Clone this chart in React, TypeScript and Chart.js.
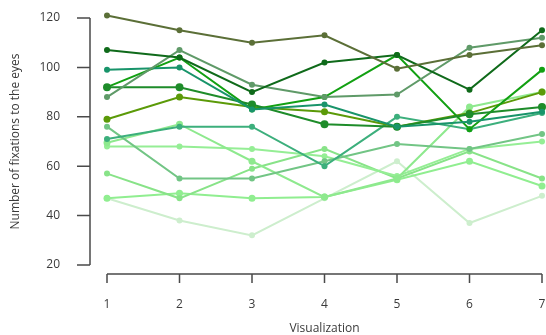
import React, { useEffect, useRef } from 'react';
import { Chart, registerables } from 'chart.js';

Chart.register(...registerables);

const visualizations = ['1', '2', '3', '4', '5', '6', '7'];
const yTicks = [20, 40, 60, 80, 100, 120];

const olive = [121, 115, 110, 113, 99.5, 105, 109];
const darkGreen = [107, 104, 90, 102, 105, 91, 115];
const grayGreen = [88, 107, 93, 88, 89, 108, 112];
const tealGreen = [99, 100, 83, 85, 76, 78, 82];
const forestGreen = [92, 92, 85, 77, 76, 81, 84];
const brightGreen = [92, 104, 83, 88, 105, 75, 99];
const oliveGreen = [79, 88, 84, 82, 76, 81.5, 90];
const teal = [71, 76, 76, 60, 80, 75, 81.5];
const medium = [76, 55, 55, 62, 69, 67, 73];
const lightA = [69.5, 77, 62, 47.5, 55, 84, 90];
const lightB = [68, 68, 67, 64, 56, 67, 70];
const lightC = [57, 47, 59, 67, 55, 66, 55];
const lightD = [47, 49, 47, 47.5, 54.5, 62, 52];
const pale = [47, 38, 32, 47, 62, 37, 48];

const series = [
  { name: 'P1', data: olive, color: '#5b6f37', r: 3 },
  { name: 'P2', data: darkGreen, color: '#0f6a1a', r: 3 },
  { name: 'P3', data: grayGreen, color: '#5f9a68', r: 3 },
  { name: 'P4', data: tealGreen, color: '#18946a', r: 3 },
  { name: 'P5', data: forestGreen, color: '#1e8c2a', r: 4 },
  { name: 'P6', data: brightGreen, color: '#12a012', r: 3 },
  { name: 'P7', data: oliveGreen, color: '#5b9a08', r: 3.5 },
  { name: 'P8', data: teal, color: '#3caf7c', r: 3 },
  { name: 'P9', data: medium, color: '#72c585', r: 3 },
  { name: 'P10', data: lightA, color: '#8ee98e', r: 3.5 },
  { name: 'P11', data: lightB, color: '#95ee95', r: 3 },
  { name: 'P12', data: lightC, color: '#88e388', r: 3 },
  { name: 'P13', data: lightD, color: '#90ee90', r: 3.5 },
  { name: 'P14', data: pale, color: '#cdeecd', r: 3 },
];

const axisColor = '#4a4a4a';
const textColor = '#3a3a3a';

const detachedAxes = {
  id: 'detachedAxes',
  afterDraw(chart: any) {
    const { ctx, chartArea, scales } = chart;
    const x = scales.x;
    const y = scales.y;
    const axisX = chartArea.left - 17;
    const axisY = chartArea.bottom + 9;
    ctx.save();
    ctx.strokeStyle = axisColor;
    ctx.lineWidth = 1.5;
    ctx.beginPath();
    const yTop = y.getPixelForValue(yTicks[yTicks.length - 1]);
    const yBot = y.getPixelForValue(yTicks[0]);
    ctx.moveTo(axisX, yTop);
    ctx.lineTo(axisX, yBot);
    yTicks.forEach((v) => {
      const p = y.getPixelForValue(v);
      ctx.moveTo(axisX - 13, p);
      ctx.lineTo(axisX, p);
    });
    const xLeft = x.getPixelForValue(0);
    const xRight = x.getPixelForValue(visualizations.length - 1);
    ctx.moveTo(xLeft, axisY);
    ctx.lineTo(xRight, axisY);
    visualizations.forEach((_, i) => {
      const p = x.getPixelForValue(i);
      ctx.moveTo(p, axisY);
      ctx.lineTo(p, axisY + 9);
    });
    ctx.stroke();
    ctx.restore();
  },
};

export default function App() {
  const ref = useRef<HTMLCanvasElement>(null);
  useEffect(() => {
    if (!ref.current) return;
    Chart.defaults.font.family = "'Open Sans', sans-serif";
    const chart = new Chart(ref.current, {
      type: 'line',
      data: {
        labels: visualizations,
        datasets: series.map((s) => ({
          label: s.name,
          data: s.data,
          borderColor: s.color,
          backgroundColor: s.color,
          pointBackgroundColor: s.color,
          pointBorderColor: s.color,
          pointBorderWidth: 0,
          pointRadius: s.r,
          borderWidth: 2,
          tension: 0,
          clip: false as any,
        })),
      },
      options: {
        animation: false,
        responsive: true,
        maintainAspectRatio: false,
        layout: { padding: { top: 18, right: 3, left: 0, bottom: 0 } },
        plugins: {
          legend: { display: false },
          tooltip: { enabled: false },
        },
        scales: {
          x: {
            type: 'category',
            offset: false,
            grid: { display: false, drawTicks: true, tickLength: 32 },
            border: { display: false },
            ticks: { color: textColor, font: { size: 12 }, padding: 0, maxRotation: 0 },
            title: {
              display: true,
              text: 'Visualization',
              color: textColor,
              font: { size: 12, lineHeight: 1 },
              padding: { top: 0, bottom: 0 },
            },
            afterFit: (scale: any) => {
              scale.height = 70;
            },
          },
          y: {
            min: 20,
            max: 120,
            grid: { display: false, drawTicks: true, tickLength: 47 },
            border: { display: false },
            ticks: { stepSize: 20, color: textColor, font: { size: 12 }, padding: 0 },
            title: {
              display: true,
              text: 'Number of fixations to the eyes',
              color: textColor,
              font: { size: 12 },
              padding: { top: 8, bottom: 0 },
            },
            afterFit: (scale: any) => {
              scale.width = 107;
            },
          },
        },
      },
      plugins: [detachedAxes],
    });
    return () => chart.destroy();
  }, []);
  return (
    <div style={{ position: 'fixed', left: 0, top: 0, width: 546, height: 335 }}>
      <canvas ref={ref} />
    </div>
  );
}
